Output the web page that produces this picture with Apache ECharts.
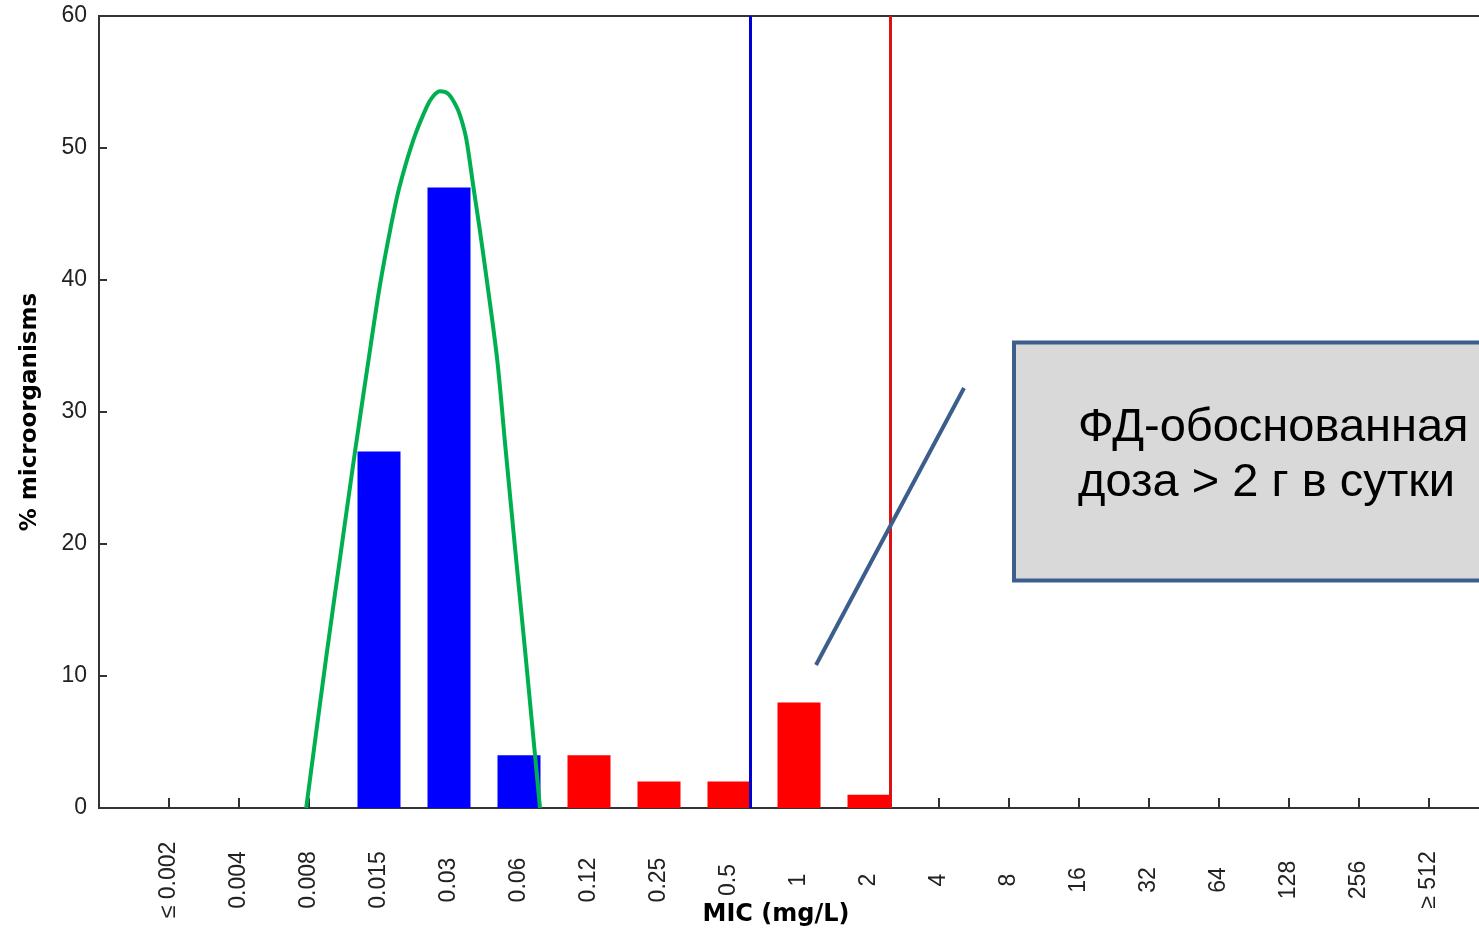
<!DOCTYPE html>
<html>
<head>
<meta charset="utf-8">
<title>MIC distribution</title>
<script src="https://cdn.jsdelivr.net/npm/echarts@6/dist/echarts.min.js"></script>
<style>
	html, body { margin: 0; padding: 0; overflow: hidden; background: #fff; }
	#chart { width: 1499px; height: 932px; }
</style>
</head>
<body>
<div id="chart"></div>
<script>
// MIC categories (x axis)
var micLabels = ['≤ 0.002', '0.004', '0.008', '0.015', '0.03', '0.06', '0.12', '0.25', '0.5', '1', '2', '4', '8', '16', '32', '64', '128', '256', '≥ 512'];
// % of organisms per MIC
var wildType = [0, 0, 0, 27, 47, 4, 0, 0, 0, 0, 0, 0, 0, 0, 0, 0, 0, 0, 0];
var nonWildType = [0, 0, 0, 0, 0, 0, 4, 2, 2, 8, 1, 0, 0, 0, 0, 0, 0, 0, 0];
// green fitted curve, x in category index units
var curveX = [1.96, 2.24, 2.44, 2.66, 2.88, 3.01, 3.16, 3.29, 3.49, 3.68, 3.77, 3.87, 3.99, 4.11, 4.18, 4.25, 4.35, 4.44, 4.54, 4.69, 4.81, 4.96, 5.10, 5.30];
var curveY = [0, 11.2, 18.8, 27.1, 35.0, 39.5, 43.8, 47.0, 50.6, 53.1, 53.9, 54.3, 54.1, 53.1, 52.1, 50.6, 47.0, 43.8, 40.0, 33.9, 27.1, 18.8, 11.2, 0];
// breakpoint lines (blue, red), category index units
var breakpoints = [8.3, 10.3];
var yMax = 60;
var yStep = 10;
var noteText = ['ФД-обоснованная', 'доза > 2 г в сутки'];

function toPairs(values) {
	return values.map(function(v, i) {
		return [i, v];
	});
}

function renderChart() {
	var axisColor = '#333';
	var option = {
		animation: false,
		grid: {
			left: 99,
			right: 0,
			top: 16,
			bottom: 124,
			show: true,
			borderColor: axisColor,
			borderWidth: 2
		},
		xAxis: {
			type: 'value',
			min: -1,
			max: micLabels.length,
			interval: 1,
			splitLine: { show: false },
			axisLine: { onZero: false, lineStyle: { color: axisColor, width: 2 } },
			axisTick: { inside: true, length: 10, lineStyle: { color: axisColor, width: 2 } },
			axisLabel: {
				rotate: 90,
				margin: 72,
				align: 'center',
				verticalAlign: 'middle',
				padding: [0, 0, 10, 0],
				color: '#222',
				fontSize: 23,
				fontFamily: '"Liberation Sans", Arial, sans-serif',
				formatter: function(v) {
					return micLabels[v] !== undefined ? micLabels[v] : '';
				}
			}
		},
		yAxis: {
			type: 'value',
			min: 0,
			max: yMax,
			interval: yStep,
			name: '% microorganisms',
			nameLocation: 'middle',
			nameGap: 57,
			nameTextStyle: {
				color: '#000',
				fontSize: 23,
				fontWeight: 'bold',
				fontFamily: '"DejaVu Sans", sans-serif'
			},
			splitLine: { show: false },
			axisLine: { show: true, onZero: false, lineStyle: { color: axisColor, width: 2 } },
			axisTick: { inside: true, length: 8, lineStyle: { color: axisColor, width: 2 } },
			axisLabel: {
				margin: 12,
				color: '#222',
				fontSize: 23,
				fontFamily: '"Liberation Sans", Arial, sans-serif'
			}
		},
		series: [{
			name: 'wild type',
			type: 'bar',
			barWidth: 43,
			barGap: '-100%',
			itemStyle: { color: '#0000ff' },
			data: toPairs(wildType)
		}, {
			name: 'non wild type',
			type: 'bar',
			barWidth: 43,
			barGap: '-100%',
			itemStyle: { color: '#ff0000' },
			data: toPairs(nonWildType)
		}, {
			name: 'curve',
			type: 'line',
			smooth: 0.3,
			symbol: 'none',
			z: 5,
			lineStyle: { color: '#00b050', width: 4 },
			data: curveX.map(function(x, i) {
				return [x, curveY[i]];
			}),
			markLine: {
				silent: true,
				symbol: ['none', 'none'],
				label: { show: false },
				data: [{
					xAxis: breakpoints[0],
					lineStyle: { color: '#0000d0', width: 3, type: 'solid' }
				}, {
					xAxis: breakpoints[1],
					lineStyle: { color: '#dd1111', width: 3, type: 'solid' }
				}]
			}
		}],
		graphic: [{
			type: 'line',
			z: 20,
			shape: { x1: 816, y1: 665, x2: 964, y2: 388 },
			style: { stroke: '#3b5e8c', lineWidth: 4 }
		}, {
			type: 'rect',
			z: 20,
			shape: { x: 1014, y: 342.5, width: 520, height: 238 },
			style: { fill: '#d9d9d9', stroke: '#3b5e8c', lineWidth: 4 }
		}, {
			type: 'text',
			z: 21,
			x: 1078,
			y: 428,
			style: {
				text: noteText[0],
				fill: '#000',
				fontSize: 47,
				fontFamily: '"Liberation Sans", Arial, sans-serif',
				verticalAlign: 'middle'
			}
		}, {
			type: 'text',
			z: 21,
			x: 1078,
			y: 483,
			style: {
				text: noteText[1],
				fill: '#000',
				fontSize: 47,
				fontFamily: '"Liberation Sans", Arial, sans-serif',
				verticalAlign: 'middle'
			}
		}, {
			type: 'text',
			z: 21,
			x: 776,
			y: 915,
			style: {
				text: 'MIC (mg/L)',
				fill: '#000',
				fontSize: 24,
				fontWeight: 'bold',
				fontFamily: '"DejaVu Sans", sans-serif',
				align: 'center',
				verticalAlign: 'middle'
			}
		}]
	};
	var chart = echarts.init(document.getElementById('chart'));
	chart.setOption(option);
}

renderChart();
</script>
</body>
</html>
